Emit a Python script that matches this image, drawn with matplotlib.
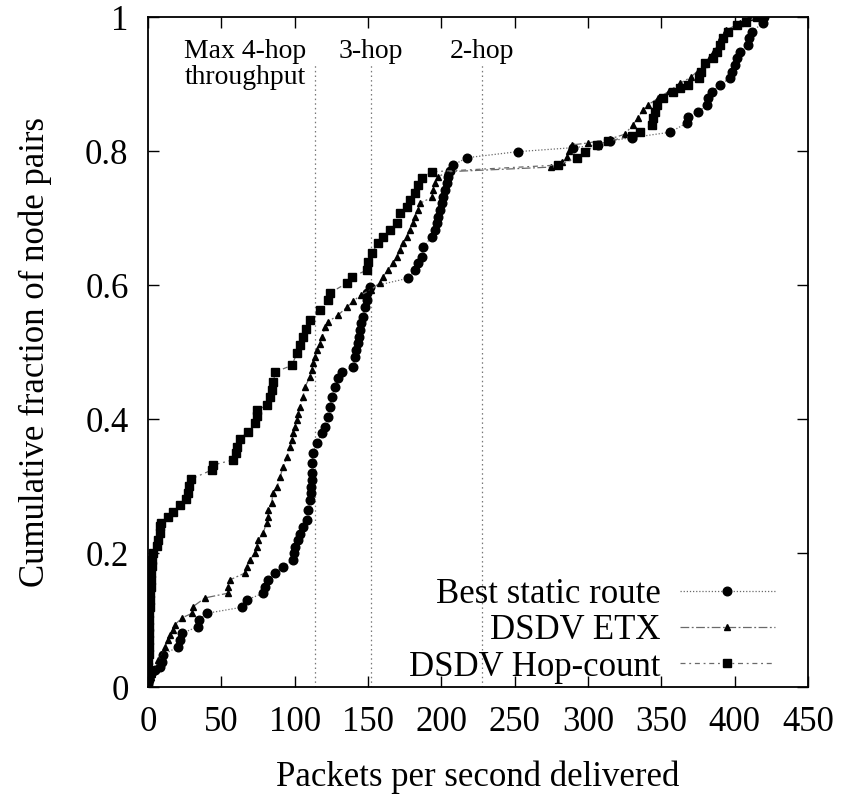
import matplotlib
matplotlib.use("Agg")
import matplotlib.pyplot as plt

# ---- data ----
hop_x = [0, 0, 0, 0, 0.5, 0.5, 0.5, 1, 1, 1, 1, 1.5, 1.5, 1.5, 2, 2, 2, 2.5, 3, 3.5,
         6, 7, 8, 8, 9, 13.6, 17, 22, 26, 27, 28, 29, 43.6, 44, 58, 60, 61, 62.7, 68, 73,
         74, 74.5, 81, 83, 84.5, 85.5, 86.6, 98, 101.6, 103.5, 105.7, 108, 110.5, 117, 122.7, 124,
         135.7, 139, 149, 150, 152.7, 157, 160, 165, 169.8, 171.8, 176.6, 178.6, 182, 184, 186.8, 193.6,
         279.5, 292.5, 298, 306, 313.6, 330, 335.5, 343.6, 344.3, 345.7, 347, 351, 358, 362.7, 368, 376,
         377, 380, 385, 388, 390, 392, 395.5, 401.6, 408, 415]
hop_y = [0.01, 0.02, 0.03, 0.04, 0.05, 0.06, 0.07, 0.08, 0.09, 0.10, 0.11, 0.12, 0.13, 0.14, 0.15, 0.16, 0.17, 0.18, 0.19, 0.20,
         0.21, 0.22, 0.23, 0.24, 0.245, 0.254, 0.261, 0.272, 0.28, 0.29, 0.30, 0.31, 0.324, 0.331, 0.339, 0.35, 0.358, 0.37, 0.381, 0.394,
         0.405, 0.413, 0.421, 0.433, 0.443, 0.455, 0.47, 0.48, 0.498, 0.51, 0.522, 0.535, 0.548, 0.563, 0.578, 0.588,
         0.603, 0.612, 0.622, 0.634, 0.648, 0.663, 0.672, 0.682, 0.692, 0.707, 0.716, 0.727, 0.737, 0.749, 0.76, 0.769,
         0.779, 0.79, 0.799, 0.809, 0.815, 0.822, 0.828, 0.839, 0.849, 0.858, 0.869, 0.879, 0.888, 0.894, 0.899, 0.909,
         0.918, 0.931, 0.939, 0.948, 0.958, 0.969, 0.978, 0.988, 0.993, 1.0]

etx_x = [0, 1, 2, 3, 4, 6, 7, 10, 11.6, 13.6, 15, 17, 18.4, 23, 30, 30.7, 38.9, 54.5, 54.5, 56,
         66, 67.5, 69.5, 73, 74, 75, 78.4, 81, 81.8, 82, 84.5, 85, 88, 90, 92, 94.7, 96.8, 98, 99, 100,
         101.6, 102.5, 103.6, 105.7, 107, 110.5, 111.5, 112.5, 114, 115, 117, 118.6, 120.7, 122.7, 129.5, 135.7, 140, 145, 152, 158,
         160, 163.6, 167, 169.8, 171.8, 174, 176.6, 178.6, 180.7, 182, 184, 185.5, 193.6, 194.3, 195.7, 197.7, 203.8,
         275, 282, 285.7, 287, 289, 300, 315, 325, 330.7, 334, 337.5, 341, 348, 355, 362.7, 370, 375, 379, 383, 386,
         389, 391, 394, 403.6, 410]
etx_y = [0.005, 0.01, 0.015, 0.02, 0.025, 0.03, 0.04, 0.05, 0.06, 0.07, 0.078, 0.085, 0.093, 0.103, 0.11, 0.12, 0.133, 0.14, 0.15, 0.16,
         0.17, 0.179, 0.19, 0.2, 0.209, 0.219, 0.23, 0.245, 0.254, 0.264, 0.275, 0.29, 0.299, 0.313, 0.328, 0.343, 0.358, 0.368, 0.379, 0.388,
         0.398, 0.408, 0.418, 0.433, 0.448, 0.463, 0.473, 0.483, 0.493, 0.503, 0.512, 0.522, 0.537, 0.545, 0.555, 0.567, 0.576, 0.585, 0.593, 0.603,
         0.612, 0.622, 0.633, 0.642, 0.652, 0.663, 0.672, 0.682, 0.692, 0.701, 0.712, 0.722, 0.731, 0.742, 0.752, 0.761, 0.769,
         0.776, 0.783, 0.791, 0.80, 0.809, 0.812, 0.818, 0.825, 0.839, 0.85, 0.861, 0.869, 0.879, 0.889, 0.901, 0.91, 0.92, 0.93, 0.94,
         0.95, 0.96, 0.97, 0.98, 0.991, 1.0]

bsr_x = [0, 0.5, 1, 2, 5, 8, 9.5, 10.2, 20.5, 21.8, 23, 34, 34.5, 40, 64, 67.5, 78.4, 79.8, 81.8, 86.6,
         92, 98.9, 99.5, 100.2, 102.3, 103.6, 105.7, 108.4, 109, 110.5, 110.8, 111, 111.5, 111.8, 112, 112.5, 115, 118.6, 120.7, 122.7,
         124, 125.4, 127.5, 129.5, 132, 140, 141, 142, 143, 144, 144.5, 145.5, 146.6, 148, 149, 149.3, 151.4, 177, 182, 184,
         186.8, 187.5, 193.6, 195.7, 197, 197.7, 199, 200.4, 201, 202.5, 203.8, 204.5, 206, 208, 217.5, 252, 290, 307, 315, 330,
         356, 367.5, 368, 375, 381, 382, 384.5, 390, 397, 398, 400, 401.6, 403.6, 409, 409.5, 411.8, 419, 420]
bsr_y = [0.005, 0.01, 0.015, 0.02, 0.025, 0.03, 0.037, 0.048, 0.06, 0.07, 0.08, 0.09, 0.1, 0.11, 0.119, 0.13, 0.14, 0.149, 0.16, 0.17,
         0.179, 0.19, 0.2, 0.209, 0.219, 0.228, 0.239, 0.249, 0.264, 0.279, 0.29, 0.299, 0.309, 0.319, 0.334, 0.349, 0.364, 0.379, 0.388, 0.403,
         0.418, 0.433, 0.448, 0.461, 0.47, 0.478, 0.493, 0.503, 0.513, 0.523, 0.533, 0.543, 0.552, 0.567, 0.578, 0.588, 0.597, 0.61, 0.622, 0.633,
         0.642, 0.657, 0.672, 0.682, 0.692, 0.701, 0.712, 0.722, 0.731, 0.742, 0.752, 0.761, 0.77, 0.779, 0.79, 0.799, 0.805, 0.809, 0.815, 0.82,
         0.828, 0.842, 0.851, 0.858, 0.869, 0.879, 0.888, 0.899, 0.909, 0.918, 0.928, 0.939, 0.948, 0.958, 0.969, 0.978, 0.991, 1.0]

hop_lines = [114, 152, 228]
hop_labels = ["Max 4-hop\nthroughput", "3-hop", "2-hop"]
series_labels = ["Best static route", "DSDV ETX", "DSDV Hop-count"]
x_ticks = [0, 50, 100, 150, 200, 250, 300, 350, 400, 450]
y_ticks = [0, 0.2, 0.4, 0.6, 0.8, 1]
y_tick_labels = ["0", "0.2", "0.4", "0.6", "0.8", "1"]

# ---- figure ----
plt.rcParams['font.family'] = ['Liberation Serif', 'DejaVu Serif']
fig = plt.figure(figsize=(8.45, 7.94), dpi=100)
ax = fig.add_axes([148/845, 1-687/794, 660/845, 670/794])

line_col = '#6a6a6a'
ax.plot(bsr_x, bsr_y, linestyle=(0, (1, 1.5)), color=line_col, lw=0.9,
        marker='o', ms=6.2, mfc='black', mec='black', label=series_labels[0], zorder=3)
ax.plot(etx_x, etx_y, linestyle=(0, (7, 2, 1.5, 2)), color=line_col, lw=0.9,
        marker='^', ms=5, mfc='black', mec='black', label=series_labels[1], zorder=3)
ax.plot(hop_x, hop_y, linestyle=(0, (4, 3, 1.5, 3)), color=line_col, lw=0.9,
        marker='s', ms=5.5, mfc='black', mec='black', label=series_labels[2], zorder=3)

for xv in hop_lines:
    ax.plot([xv, xv], [0, 0.93], linestyle=(0, (1.2, 2.5)), color='#777777', lw=0.9, zorder=1)

ax.text(108, 0.939, "Max 4-hop", ha='right', va='baseline', fontsize=20)
ax.text(108, 0.900, "throughput", ha='right', va='baseline', fontsize=20)
ax.text(hop_lines[1], 0.939, hop_labels[1], ha='center', va='baseline', fontsize=20)
ax.text(hop_lines[2], 0.939, hop_labels[2], ha='center', va='baseline', fontsize=20)

ax.set_xlim(0, 450)
ax.set_ylim(0, 1)
ax.set_xticks(x_ticks)
ax.set_yticks(y_ticks)
ax.set_yticklabels(y_tick_labels)
ax.tick_params(direction='in', length=8, width=1, labelsize=25, top=True, right=True)
ax.tick_params(axis='x', pad=14)
ax.tick_params(axis='y', pad=14)
for s in ax.spines.values():
    s.set_linewidth(1.3)

ax.set_xlabel("Packets per second delivered", fontsize=25, labelpad=15)
ax.set_ylabel("Cumulative fraction of node pairs", fontsize=25, labelpad=24)

leg = ax.legend(loc='lower right', bbox_to_anchor=(0.95, 0.005), frameon=False,
                markerfirst=False, fontsize=25, handlelength=2.75, handletextpad=0.55,
                labelspacing=0.1, borderpad=0, borderaxespad=0)

fig.savefig("out.png", dpi=100)
